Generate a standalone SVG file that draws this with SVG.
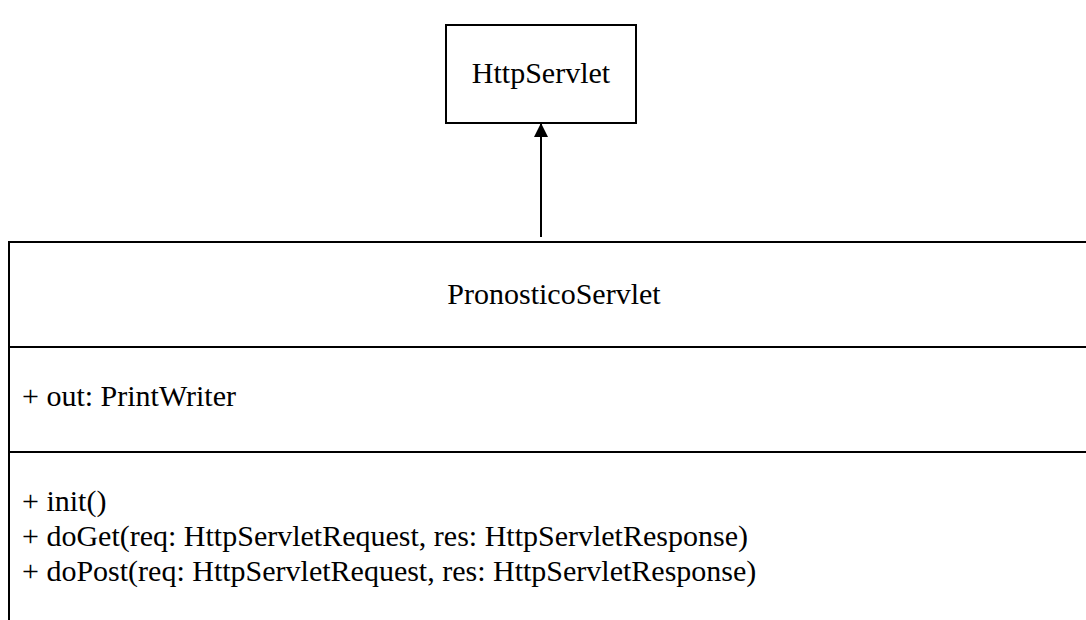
<svg xmlns="http://www.w3.org/2000/svg" width="1086" height="620" viewBox="0 0 1086 620">
<style>
.t{font-family:"Liberation Serif","Times New Roman",serif;font-size:30px;fill:#000}
.b{fill:none;stroke:#000;stroke-width:2}
</style>
<defs>
<marker id="tri" markerWidth="14" markerHeight="14" refX="13" refY="7" orient="auto" markerUnits="userSpaceOnUse">
<path d="M0,0 L14,7 L0,14 Z" fill="#000"/>
</marker>
</defs>
<rect width="1086" height="620" fill="#fff"/>
<g id="httpservlet">
<rect class="b" x="446" y="25" width="190" height="98"/>
<text class="t" x="541" y="83" text-anchor="middle">HttpServlet</text>
</g>
<g id="pronosticoservlet">
<path class="b" d="M1100,242 H9 V625 M9,347 H1100 M9,452 H1100"/>
<text class="t" x="554" y="304" text-anchor="middle">PronosticoServlet</text>
<text class="t" x="22" y="406">+ out: PrintWriter</text>
<text class="t" x="22" y="511">+ init()</text>
<text class="t" x="22" y="546">+ doGet(req: HttpServletRequest, res: HttpServletResponse)</text>
<text class="t" x="22" y="581">+ doPost(req: HttpServletRequest, res: HttpServletResponse)</text>
</g>
<g id="connectors">
<line x1="541" y1="237" x2="541" y2="124" stroke="#000" stroke-width="2" marker-end="url(#tri)"/>
</g>
</svg>
